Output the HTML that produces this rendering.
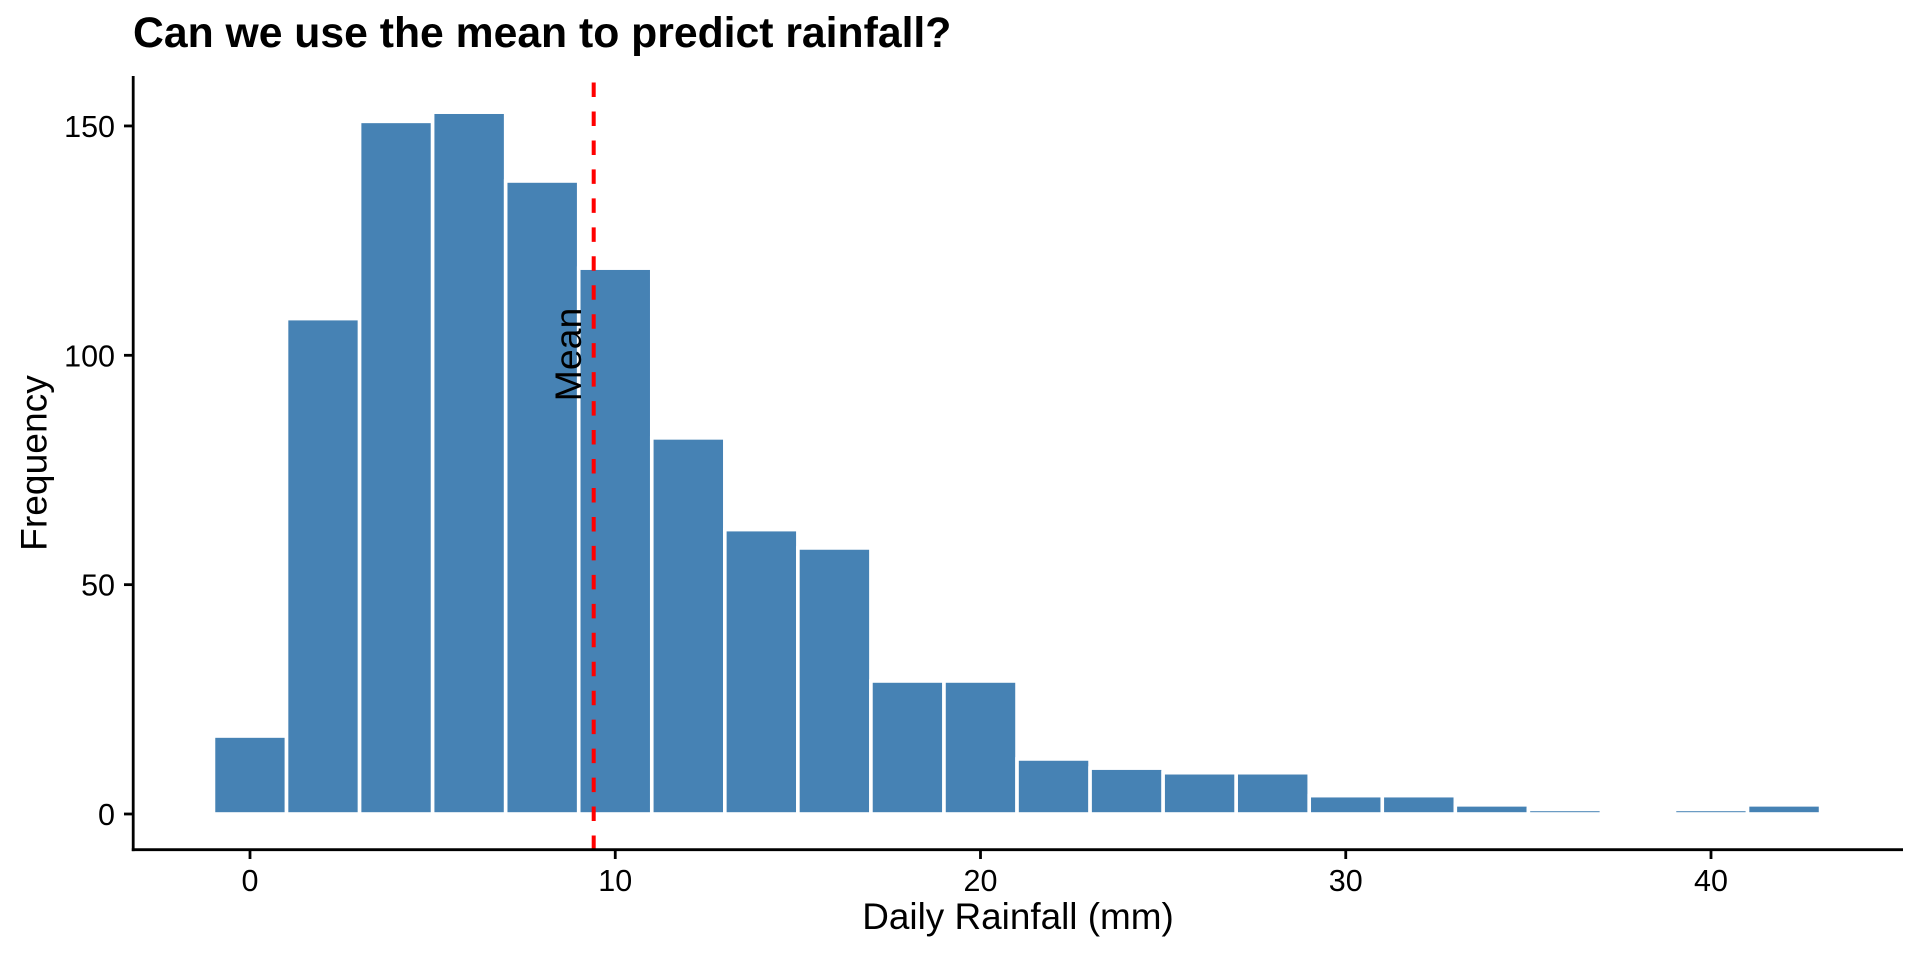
<!DOCTYPE html>
<html>
<head>
<meta charset="utf-8">
<style>
  html, body { margin: 0; padding: 0; background: #ffffff; }
  body { width: 1920px; height: 960px; overflow: hidden; }
  svg { display: block; }
  text { font-family: "Liberation Sans", Arial, Helvetica, sans-serif; fill: #000000; }
</style>
</head>
<body>
<svg width="1920" height="960" viewBox="0 0 1920 960" xmlns="http://www.w3.org/2000/svg">
  <rect x="0" y="0" width="1920" height="960" fill="#ffffff"/>

  <!-- Title -->
  <text x="133" y="47" font-size="42.7" font-weight="bold">Can we use the mean to predict rainfall?</text>

  <!-- Histogram bars -->
  <g fill="#4682B4" stroke="#ffffff" stroke-width="3.6">
    <rect x="213.475" y="736.02" width="73.05" height="77.98"/>
    <rect x="286.525" y="318.60" width="73.05" height="495.40"/>
    <rect x="359.575" y="121.36" width="73.05" height="692.64"/>
    <rect x="432.625" y="112.19" width="73.05" height="701.81"/>
    <rect x="505.675" y="180.99" width="73.05" height="633.01"/>
    <rect x="578.725" y="268.15" width="73.05" height="545.85"/>
    <rect x="651.775" y="437.87" width="73.05" height="376.13"/>
    <rect x="724.825" y="529.61" width="73.05" height="284.39"/>
    <rect x="797.875" y="547.95" width="73.05" height="266.05"/>
    <rect x="870.925" y="680.98" width="73.05" height="133.02"/>
    <rect x="943.975" y="680.98" width="73.05" height="133.02"/>
    <rect x="1017.025" y="758.96" width="73.05" height="55.04"/>
    <rect x="1090.075" y="768.13" width="73.05" height="45.87"/>
    <rect x="1163.125" y="772.72" width="73.05" height="41.28"/>
    <rect x="1236.175" y="772.72" width="73.05" height="41.28"/>
    <rect x="1309.225" y="795.65" width="73.05" height="18.35"/>
    <rect x="1382.275" y="795.65" width="73.05" height="18.35"/>
    <rect x="1455.325" y="804.83" width="73.05" height="9.17"/>
    <rect x="1528.375" y="809.41" width="73.05" height="4.59"/>
    <rect x="1674.475" y="809.41" width="73.05" height="4.59"/>
    <rect x="1747.525" y="804.83" width="73.05" height="9.17"/>
  </g>

  <!-- Mean dashed line -->
  <line x1="593.7" y1="850" x2="593.7" y2="76" stroke="#ff0000" stroke-width="4" stroke-dasharray="14.5 14.46"/>

  <!-- Mean label -->
  <text x="0" y="0" font-size="37.5" text-anchor="middle" transform="translate(581,354.5) rotate(-90)">Mean</text>

  <!-- Axes -->
  <g stroke="#000000" stroke-width="2.8" fill="none">
    <line x1="133.2" y1="76" x2="133.2" y2="851.1"/>
    <line x1="131.8" y1="849.7" x2="1903" y2="849.7"/>
    <!-- y ticks -->
    <line x1="124" y1="814" x2="133.2" y2="814"/>
    <line x1="124" y1="584.65" x2="133.2" y2="584.65"/>
    <line x1="124" y1="355.3" x2="133.2" y2="355.3"/>
    <line x1="124" y1="125.95" x2="133.2" y2="125.95"/>
    <!-- x ticks -->
    <line x1="250" y1="849.7" x2="250" y2="859"/>
    <line x1="615.25" y1="849.7" x2="615.25" y2="859"/>
    <line x1="980.5" y1="849.7" x2="980.5" y2="859"/>
    <line x1="1345.75" y1="849.7" x2="1345.75" y2="859"/>
    <line x1="1711" y1="849.7" x2="1711" y2="859"/>
  </g>

  <!-- Y tick labels -->
  <g font-size="30.5" text-anchor="end">
    <text x="115" y="825">0</text>
    <text x="115" y="595.7">50</text>
    <text x="115" y="366.3">100</text>
    <text x="115" y="137">150</text>
  </g>

  <!-- X tick labels -->
  <g font-size="30.5" text-anchor="middle">
    <text x="250" y="891">0</text>
    <text x="615.25" y="891">10</text>
    <text x="980.5" y="891">20</text>
    <text x="1345.75" y="891">30</text>
    <text x="1711" y="891">40</text>
  </g>

  <!-- Axis titles -->
  <text x="1018" y="929" font-size="36.9" text-anchor="middle">Daily Rainfall (mm)</text>
  <text x="0" y="0" font-size="37.2" text-anchor="middle" transform="translate(46.5,463) rotate(-90)">Frequency</text>
</svg>
</body>
</html>
